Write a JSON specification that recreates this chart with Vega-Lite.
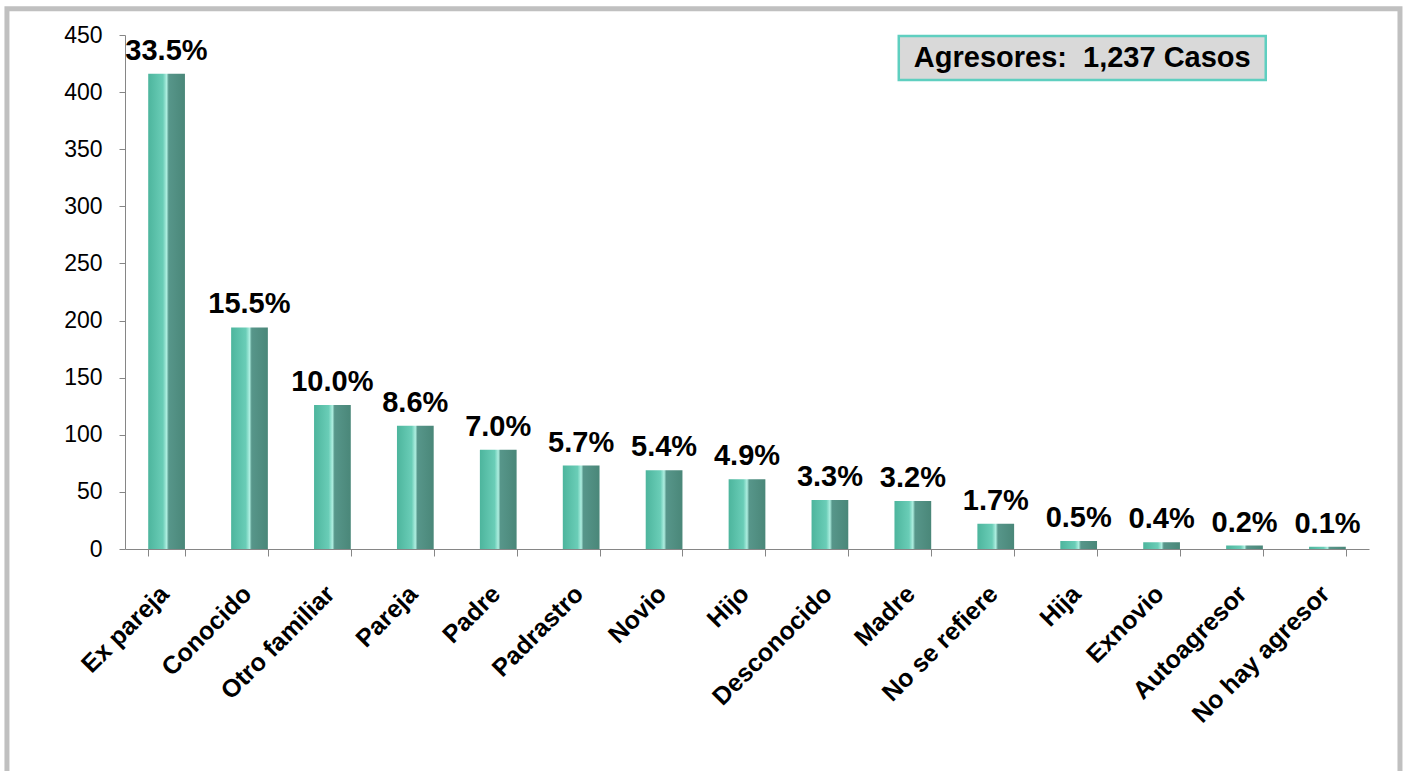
{
  "$schema": "https://vega.github.io/schema/vega-lite/v6.json",
  "width": 1244,
  "height": 514,
  "autosize": "none",
  "padding": {"left": 125, "top": 35, "right": 37, "bottom": 222},
  "background": "white",
  "config": {"view": {"stroke": null}, "font": "Liberation Sans"},
  "data": {
    "values": [
      {"agresor": "Ex pareja", "casos": 416, "pct": "33.5%"},
      {"agresor": "Conocido", "casos": 194, "pct": "15.5%"},
      {"agresor": "Otro familiar", "casos": 126, "pct": "10.0%"},
      {"agresor": "Pareja", "casos": 108, "pct": "8.6%"},
      {"agresor": "Padre", "casos": 87, "pct": "7.0%"},
      {"agresor": "Padrastro", "casos": 73, "pct": "5.7%"},
      {"agresor": "Novio", "casos": 69, "pct": "5.4%"},
      {"agresor": "Hijo", "casos": 61, "pct": "4.9%"},
      {"agresor": "Desconocido", "casos": 43, "pct": "3.3%"},
      {"agresor": "Madre", "casos": 42, "pct": "3.2%"},
      {"agresor": "No se refiere", "casos": 22, "pct": "1.7%"},
      {"agresor": "Hija", "casos": 7, "pct": "0.5%"},
      {"agresor": "Exnovio", "casos": 6, "pct": "0.4%"},
      {"agresor": "Autoagresor", "casos": 3, "pct": "0.2%"},
      {"agresor": "No hay agresor", "casos": 2, "pct": "0.1%"}
    ]
  },
  "layer": [
    {
      "mark": {
        "type": "bar",
        "color": {
          "gradient": "linear",
          "x1": 0, "x2": 1, "y1": 0, "y2": 0,
          "stops": [
            {"offset": 0, "color": "#4db59d"},
            {"offset": 0.4, "color": "#6acdb7"},
            {"offset": 0.5, "color": "#aeeee0"},
            {"offset": 0.56, "color": "#57968a"},
            {"offset": 1, "color": "#4a8779"}
          ]
        }
      },
      "encoding": {
        "x": {
          "field": "agresor", "type": "nominal", "sort": null,
          "scale": {"paddingInner": 0.557, "paddingOuter": 0.28},
          "axis": {
            "title": null, "tickBand": "extent", "tickSize": 7,
            "domainColor": "#868686", "tickColor": "#868686",
            "labelAngle": -45, "labelFontSize": 25, "labelFontWeight": "bold",
            "labelColor": "black", "labelPadding": 25, "labelOffset": -11, "labelLimit": 0,
            "labelFont": "Liberation Sans"
          }
        },
        "y": {
          "field": "casos", "type": "quantitative",
          "scale": {"domain": [0, 450], "nice": false},
          "axis": {
            "title": null, "values": [0, 50, 100, 150, 200, 250, 300, 350, 400, 450],
            "grid": false, "tickSize": 6, "domainColor": "#868686", "tickColor": "#868686",
            "labelFontSize": 23, "labelColor": "black", "labelPadding": 17, "labelFont": "Liberation Sans"
          }
        }
      }
    },
    {
      "mark": {"type": "text", "fontSize": 29, "fontWeight": "bold", "color": "black", "baseline": "alphabetic", "dy": -14, "font": "Liberation Sans"},
      "encoding": {
        "x": {"field": "agresor", "type": "nominal", "sort": null, "scale": {"paddingInner": 0.557, "paddingOuter": 0.28}, "axis": null},
        "y": {"field": "casos", "type": "quantitative", "scale": {"domain": [0, 450], "nice": false}},
        "text": {"field": "pct"}
      }
    },
    {
      "data": {"values": [{"label": "Agresores:\u00a0 1,237 Casos"}]},
      "layer": [
        {
          "mark": {"type": "rect", "fill": "#d9d9d9", "stroke": "#5fcfc0", "strokeWidth": 2.5},
          "encoding": {
            "x": {"datum": 0.622, "type": "quantitative", "scale": {"domain": [0, 1]}, "axis": null},
            "x2": {"datum": 0.917},
            "y": {"datum": 449.2, "type": "quantitative", "scale": {"domain": [0, 450], "nice": false}},
            "y2": {"datum": 410.7}
          }
        },
        {
          "mark": {"type": "text", "fontSize": 29, "fontWeight": "bold", "color": "black", "baseline": "middle", "align": "center", "font": "Liberation Sans"},
          "encoding": {
            "x": {"datum": 0.7695, "type": "quantitative", "scale": {"domain": [0, 1]}, "axis": null},
            "y": {"datum": 430, "type": "quantitative", "scale": {"domain": [0, 450], "nice": false}},
            "text": {"field": "label"}
          }
        },
        {
          "mark": {"type": "rect", "fill": "transparent", "stroke": "#c0c0c0", "strokeWidth": 5},
          "encoding": {
            "x": {"datum": -0.0949, "type": "quantitative", "scale": {"domain": [0, 1]}, "axis": null},
            "x2": {"datum": 1.0249},
            "y": {"datum": 472.9, "type": "quantitative", "scale": {"domain": [0, 450], "nice": false}},
            "y2": {"datum": -219.8}
          }
        }
      ],
      "resolve": {"scale": {"x": "shared"}}
    }
  ],
  "resolve": {"scale": {"x": "independent"}}
}
